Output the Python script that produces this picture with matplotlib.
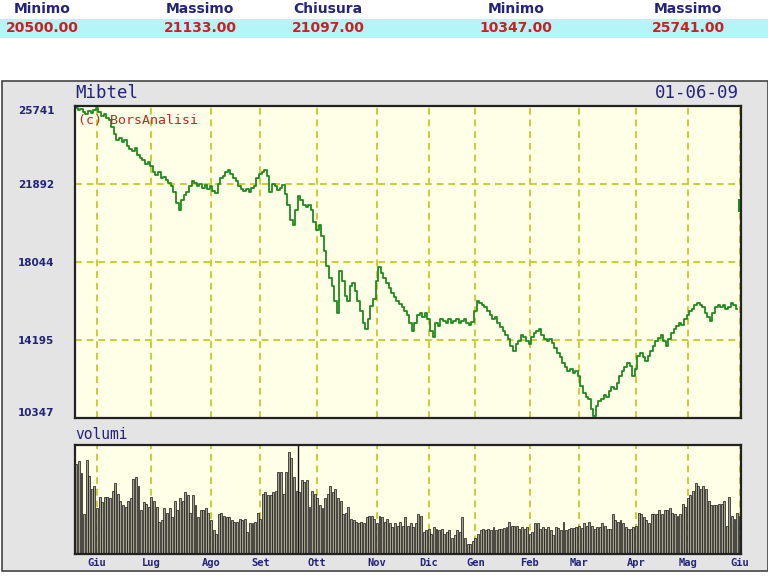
import numpy as np
import matplotlib
matplotlib.use("Agg")
import matplotlib.pyplot as plt
from matplotlib.patches import Rectangle

# --- dati (Mibtel, giu 2008 - giu 2009) ---
header_labels = ["Minimo", "Massimo", "Chiusura", "Minimo", "Massimo"]
header_values = ["20500.00", "21133.00", "21097.00", "10347.00", "25741.00"]

# chiusure giornaliere (indice = giorno di borsa)
price = [
    25640, 25540, 25590, 25440, 25340, 25490, 25390, 25540,
    25640, 25440, 25250, 25340, 25150, 25050, 24700, 24350, 24060, 24160, 23960, 24060,
    23760, 23610, 23510, 23660, 23320, 23170, 23070, 22870, 22970,
    22770, 22470, 22320, 22470, 22170, 22220, 22080, 21930, 21780, 21480, 20940, 20590,
    21090, 21340, 21480, 21780, 22030, 21930, 21780, 21880, 21680, 21830, 21630,
    21780, 21530, 21440, 21880, 22180, 22280, 22470, 22570, 22370, 22180, 22030,
    21780, 21630, 21530, 21630, 21480, 21680, 21780, 22180, 22370,
    22470, 22570, 22280, 21480, 21880, 21780, 21580, 21680, 21830, 21390, 20840,
    20100, 19850, 20590, 21290, 21090, 20840, 20740, 20840, 20590, 20000,
    19600, 19850, 19350, 18610, 17870, 17230, 16880, 16140, 15540, 17620, 17130,
    16380, 16140, 16880, 17030, 16630, 16140, 15640, 15050, 14750, 15250, 15890, 16240,
    17130, 17820, 17520, 17230, 17030, 16780, 16530, 16340, 16140, 15990, 15840,
    15640, 15440, 15050, 14650, 15050, 15440, 15540, 15340, 15540,
    15250, 14650, 14360, 15050, 14900, 15250, 15150, 15050, 15250, 15050, 15150,
    15250, 15050, 15150, 15250, 15050, 14950, 15100,
    15640, 16140, 16040, 15940, 15840, 15640, 15440, 15250, 15340, 15050, 14850,
    14650, 14460, 14260, 13910, 13660, 14010, 14160, 14460, 14360, 14160,
    14010, 14360, 14550, 14650, 14750, 14460, 14260, 14160, 14260, 14060, 13810,
    13560, 13370, 13070, 12870, 12670, 12770, 12570, 12670,
    12420, 11930, 11580, 11380, 11290, 10790, 10440, 10940, 11190, 11290, 11480,
    11380, 11680, 11880, 11780, 12080, 12420, 12670, 12870, 13070, 12920, 12420,
    12770, 13420, 13560, 13370, 13170, 13420, 13660, 13910, 14160, 14310, 14460,
    14160, 13910, 14260, 14550, 14750, 14900, 15050, 14950, 15250,
    15440, 15640, 15740, 15940, 16040, 15940, 15840, 15540, 15340, 15150, 15540,
    15840, 15940, 15840, 15940, 15740, 15840, 16040, 15940, 15740,
]
# ultimo giorno (01-06-09): barra isolata
last_low, last_high, last_close = 20500, 21133, 21097

# volumi (scala relativa 0-100 del riquadro)
volume = [
    83, 85, 74, 37, 86, 72, 60, 62, 42, 52, 48, 52, 52, 51, 58, 65, 55, 49, 45, 43,
    49, 51, 69, 71, 62, 40, 48, 46, 43, 52, 49, 43, 29, 31, 42, 38, 42, 34, 49, 40,
    51, 49, 57, 54, 38, 54, 45, 34, 40, 40, 42, 38, 31, 22, 18, 37, 38, 35, 34, 34,
    31, 29, 29, 32, 31, 32, 20, 28, 28, 29, 38, 32, 55, 57, 54, 54, 57, 58, 75, 75,
    55, 75, 94, 88, 71, 58, 57, 68, 66, 68, 43, 58, 55, 51, 45, 42, 51, 55, 62, 57,
    60, 51, 49, 37, 38, 43, 32, 31, 29, 28, 29, 28, 34, 35, 35, 32, 28, 35, 34, 29,
    32, 28, 25, 28, 26, 29, 26, 34,
    26, 28, 25, 28, 37, 35, 20, 22, 23, 18, 25, 23, 22, 23, 18, 20, 22, 15, 17,
    22, 20, 34, 15, 9, 9, 12, 15, 18, 22, 23, 22, 23, 22, 25, 22, 23, 23, 24, 25,
    29, 26, 26, 26, 23, 25, 23, 25, 18, 20, 28, 28, 23, 25, 23, 25, 22, 17, 25, 24,
    22, 29, 22, 23, 24, 24, 25, 26, 24, 28, 26, 29, 26, 23, 25, 25, 28, 26, 23, 23,
    37, 31, 29, 31, 28, 25, 23, 23, 25, 26, 38, 37, 34, 31, 28, 37, 37, 37, 40, 37,
    40, 40, 42, 38, 37, 35, 37, 46, 43, 51, 54, 58, 65, 62, 60, 62, 60, 49, 45, 45,
    45, 46, 46, 49, 26, 52, 35, 32, 38, 35,
]
marker_day = 86  # linea nera verticale nel pannello volumi

month_pos = [8, 29, 52, 71, 93, 116, 136, 154, 175, 194, 216, 236, 256]
month_labels = ["Giu", "Lug", "Ago", "Set", "Ott", "Nov", "Dic",
                "Gen", "Feb", "Mar", "Apr", "Mag", "Giu"]
y_ticks = [10347, 14195, 18044, 21892, 25741]

navy = "#23237a"
red = "#cc2020"
green = "#1f8a1f"
grid_col = "#cccc33"
paper = "#ffffe8"
dash = (0, (3.5, 2.5))

fig = plt.figure(figsize=(7.68, 5.76), dpi=100)
W, H = 768, 576

def box(x0, y0, x1, y1):
    # pixel -> frazioni della figura (y dall'alto)
    return [x0 / W, 1 - y1 / H, (x1 - x0) / W, (y1 - y0) / H]

# intestazione
fig.patches.append(Rectangle((0, 1 - 38 / H), 1, 19 / H, transform=fig.transFigure,
                             facecolor="#b4f6f8", edgecolor="none", zorder=-2))
for xc, lab, val in zip([42, 200, 328, 516, 688], header_labels, header_values):
    fig.text(xc / W, 1 - 9 / H, lab, ha="center", va="center", color=navy,
             fontsize=10, fontweight="bold")
    fig.text(xc / W, 1 - 28.5 / H, val, ha="center", va="center", color=red,
             fontsize=10, fontweight="bold")

# pannello grigio
fig.patches.append(Rectangle((2 / W, 1 - 571 / H), 766 / W, 490 / H, transform=fig.transFigure,
                             facecolor="#e4e4e4", edgecolor="#444444", lw=1.2, zorder=-2))

n = len(volume)
xlim = (-0.5, n - 0.5)

# --- prezzi ---
ax = fig.add_axes(box(75, 106, 741, 418))
ax.set_facecolor(paper)
days = np.arange(len(price))
ax.plot(days, price, drawstyle="steps-mid", color=green, lw=1.3)
last_day = len(price)
ax.vlines(last_day - 0.3, last_low, last_high, color=green, lw=1.5, zorder=3)
ax.hlines(last_close, last_day - 0.7, last_day - 0.3, color=green, lw=1.2, zorder=3)
ax.set_xlim(xlim)
ax.set_ylim(y_ticks[0], y_ticks[-1])
for v in y_ticks[1:-1]:
    ax.axhline(v, color=grid_col, lw=1.4, ls=dash, zorder=0)
for p in month_pos:
    ax.axvline(p, color=grid_col, lw=1.4, ls=dash, zorder=0)
ax.set_xticks([])
ax.set_yticks(y_ticks)
ax.set_yticklabels([str(v) for v in y_ticks], color=navy, fontsize=7.5, fontweight="bold")
ax.tick_params(axis="y", length=0, pad=15)
ax.get_yticklabels()[0].set_va("bottom")
ax.get_yticklabels()[-1].set_va("top")
for s in ax.spines.values():
    s.set_color("#222222")
    s.set_linewidth(1.6)
ax.text(0, 1.012, "Mibtel", transform=ax.transAxes, ha="left", va="bottom",
        family="DejaVu Sans Mono", fontsize=12.5, color=navy)
ax.text(0.997, 1.012, "01-06-09", transform=ax.transAxes, ha="right", va="bottom",
        family="DejaVu Sans Mono", fontsize=12.5, color=navy)
ax.text(0.004, 0.955, "(c) BorsAnalisi", transform=ax.transAxes, ha="left", va="center",
        family="DejaVu Sans Mono", fontsize=9.5, color=red)

# --- volumi ---
axv = fig.add_axes(box(75, 445, 741, 554))
axv.set_facecolor(paper)
axv.bar(np.arange(n), volume, width=0.75, color="#a3a390", edgecolor="#111111", lw=0.5)
axv.axvline(marker_day - 0.4, color="#111111", lw=1.0)
axv.set_xlim(xlim)
axv.set_ylim(0, 100)
for p in month_pos:
    axv.axvline(p, color=grid_col, lw=1.4, ls=dash, zorder=0)
axv.set_yticks([])
axv.set_xticks(month_pos)
axv.set_xticklabels(month_labels, color=navy, fontsize=7.5, fontweight="bold",
                    family="DejaVu Sans Mono")
axv.tick_params(axis="x", length=0, pad=3)
for s in axv.spines.values():
    s.set_color("#222222")
    s.set_linewidth(1.6)
axv.text(0, 1.03, "volumi", transform=axv.transAxes, ha="left", va="bottom",
         family="DejaVu Sans Mono", fontsize=10.5, color=navy)

fig.savefig("out.png", dpi=100)
